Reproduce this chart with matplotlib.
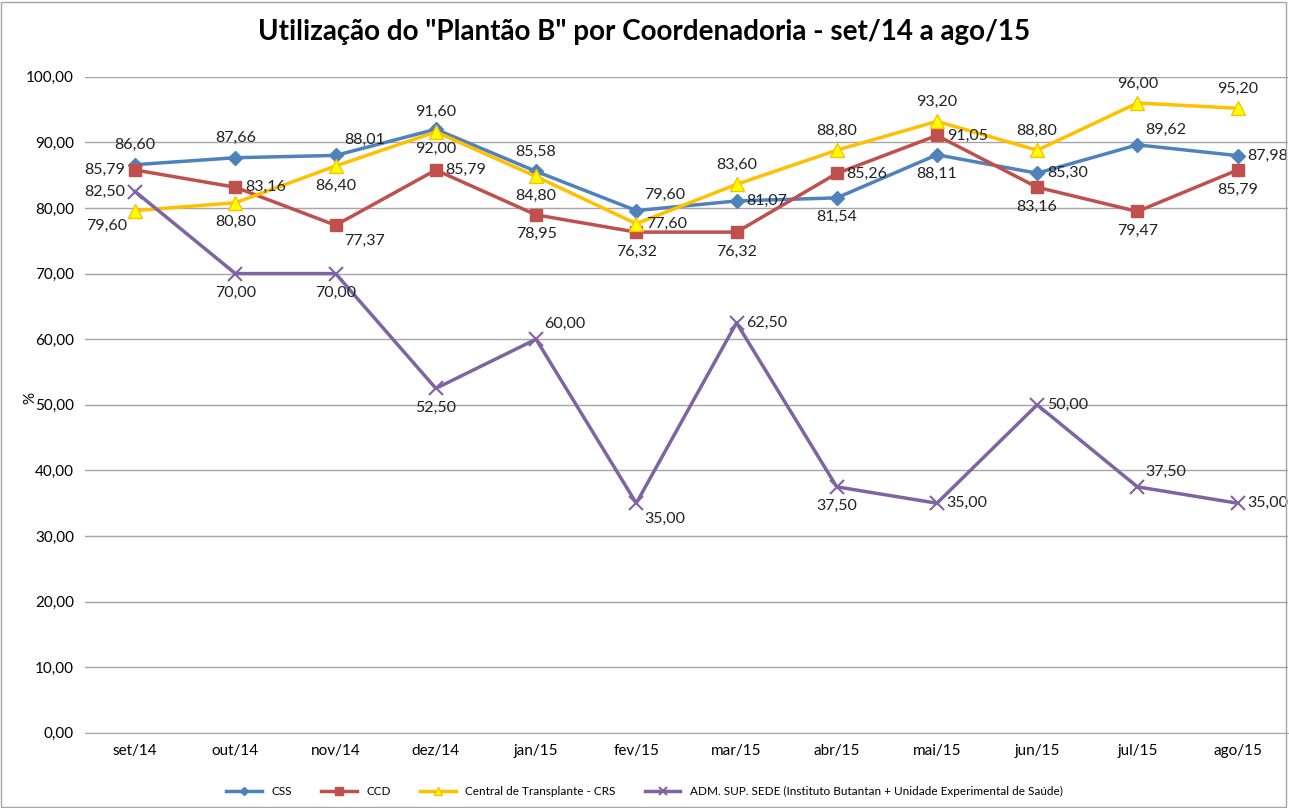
import matplotlib
matplotlib.use("Agg")
import matplotlib.pyplot as plt
from matplotlib.patches import Rectangle

plt.rcParams['font.family'] = ['Lato', 'DejaVu Sans']

meses = ['set/14', 'out/14', 'nov/14', 'dez/14', 'jan/15', 'fev/15',
         'mar/15', 'abr/15', 'mai/15', 'jun/15', 'jul/15', 'ago/15']

css = [86.60, 87.66, 88.01, 92.00, 85.58, 79.60, 81.07, 81.54, 88.11, 85.30, 89.62, 87.98]
ccd = [85.79, 83.16, 77.37, 85.79, 78.95, 76.32, 76.32, 85.26, 91.05, 83.16, 79.47, 85.79]
crs = [79.60, 80.80, 86.40, 91.60, 84.80, 77.60, 83.60, 88.80, 93.20, 88.80, 96.00, 95.20]
adm = [82.50, 70.00, 70.00, 52.50, 60.00, 35.00, 62.50, 37.50, 35.00, 50.00, 37.50, 35.00]

yticks = [0, 10, 20, 30, 40, 50, 60, 70, 80, 90, 100]

# where each data label sits relative to its point
pos_css = ['a', 'a', 'ar', 'b', 'a', 'ar', 'r', 'b', 'b', 'r', 'ar', 'r']
pos_ccd = ['l', 'r', 'br', 'r', 'b', 'b', 'b', 'r', 'r', 'b', 'b', 'b']
pos_crs = ['bl', 'b', 'b', 'a', 'b', 'r', 'a', 'a', 'a', 'a', 'a', 'a']
pos_adm = ['l', 'b', 'b', 'b', 'ar', 'br', 'r', 'b', 'r', 'r', 'ar', 'r']

offsets = {
    'a': ((0, 9), 'center', 'bottom'),
    'b': ((0, -9), 'center', 'top'),
    'r': ((7, 0), 'left', 'center'),
    'l': ((-7, 0), 'right', 'center'),
    'ar': ((6, 6), 'left', 'bottom'),
    'br': ((6, -6), 'left', 'top'),
    'bl': ((-6, -6), 'right', 'top'),
}

fig = plt.figure(figsize=(12.89, 8.08), dpi=100)
ax = fig.add_axes([0.066, 0.093, 0.933, 0.812])

x = list(range(len(meses)))
series = [
    ('CSS', css, pos_css, dict(color='#4F81BD', marker='D', markersize=7,
                               markerfacecolor='#4F81BD', markeredgecolor='#4F81BD')),
    ('CCD', ccd, pos_ccd, dict(color='#C0504D', marker='s', markersize=9,
                               markerfacecolor='#C0504D', markeredgecolor='#C0504D')),
    ('Central de Transplante - CRS', crs, pos_crs,
     dict(color='#FFC000', marker='^', markersize=10,
          markerfacecolor='#FFFF00', markeredgecolor='#FFC000')),
    ('ADM. SUP. SEDE (Instituto Butantan + Unidade Experimental de Saúde)', adm, pos_adm,
     dict(color='#8064A2', marker='x', markersize=10, markeredgewidth=1.5)),
]

for name, vals, pos, style in series:
    ax.plot(x, vals, linewidth=2.5, label=name, zorder=3, **style)
    for xi, v, p in zip(x, vals, pos):
        off, ha, va = offsets[p]
        ax.annotate(f'{v:.2f}'.replace('.', ','), (xi, v), xytext=off,
                    textcoords='offset points', ha=ha, va=va,
                    fontsize=11.5, color='#222222', zorder=4)

ax.set_xlim(-0.5, len(meses) - 0.5)
ax.set_ylim(0, 100)
ax.set_xticks(x)
ax.set_xticklabels(meses, fontsize=11)
ax.set_yticks(yticks)
ax.set_yticklabels([f'{t:.2f}'.replace('.', ',') for t in yticks], fontsize=11)
ax.tick_params(axis='both', length=0, pad=8)
ax.grid(axis='y', color='#A6A6A6', linewidth=1)
ax.set_axisbelow(True)
for s in ['top', 'right', 'left']:
    ax.spines[s].set_visible(False)
ax.spines['bottom'].set_color('#A6A6A6')
ax.set_ylabel('%', fontsize=11)
ax.yaxis.set_label_coords(-0.04, 0.51)

fig.suptitle('Utilização do "Plantão B" por Coordenadoria - set/14 a ago/15',
             fontsize=20, fontweight='bold', y=0.977)

fig.legend(loc='lower center', bbox_to_anchor=(0.5, 0.0), ncol=4,
           frameon=False, fontsize=8.5, handlelength=3, columnspacing=2.5,
           markerscale=0.6)

fig.patches.append(Rectangle((0.001, 0.001), 0.997, 0.997, transform=fig.transFigure,
                             fill=False, edgecolor='#A6A6A6', linewidth=1))

fig.savefig('out.png', dpi=100)
